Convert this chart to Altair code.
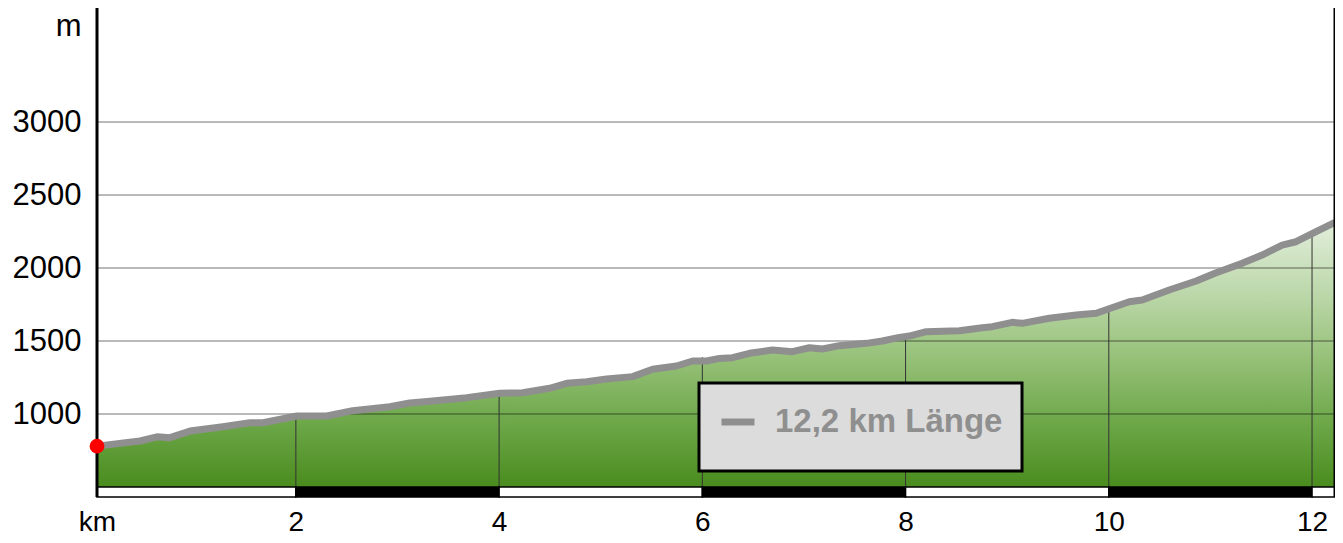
import altair as alt
import pandas as pd

# ---- data ----
km = [0.043, 0.466, 0.633, 0.761, 0.958, 1.282, 1.548, 1.676, 2.010, 2.305,
      2.560, 2.924, 3.121, 3.347, 3.681, 4.006, 4.232, 4.498, 4.665, 4.862,
      5.058, 5.314, 5.510, 5.746, 5.904, 6.041, 6.169, 6.297, 6.464, 6.690,
      6.887, 7.054, 7.182, 7.349, 7.615, 7.772, 7.939, 8.037, 8.204, 8.529,
      8.755, 8.853, 9.050, 9.148, 9.414, 9.680, 9.876, 10.201, 10.329, 10.594,
      10.860, 11.057, 11.312, 11.509, 11.706, 11.843, 12.040, 12.226]
elev = [780, 815, 844, 838, 883, 913, 940, 940, 986, 986,
        1023, 1050, 1075, 1089, 1112, 1142, 1146, 1176, 1210, 1221,
        1240, 1256, 1306, 1329, 1363, 1363, 1381, 1386, 1416, 1438,
        1427, 1454, 1445, 1468, 1484, 1500, 1525, 1534, 1564, 1570,
        1591, 1598, 1628, 1621, 1656, 1678, 1690, 1769, 1781, 1849,
        1911, 1968, 2032, 2089, 2157, 2180, 2249, 2312]
legend_label = "12,2 km Länge"

x_ticks = [0.043, 2, 4, 6, 8, 10, 12]
y_ticks = [1000, 1500, 2000, 2500, 3000]
unit_m_pos = 3655

grid_km = [2, 4, 6, 8, 10, 12]
grid_top = [986, 1142, 1390, 1534, 1720, 2240]

seg_start = [0.043, 2, 4, 6, 8, 10, 12]
seg_end = [2, 4, 6, 8, 10, 12, 12.226]
seg_fill = ["white", "black", "white", "black", "white", "black", "white"]

x_dom = [0.043, 12.226]
y_dom = [431.5, 3781]
base_elev = 500

assert len(km) == len(elev)

W, H = 1238, 489
FONT = "Liberation Sans"

profile = pd.DataFrame({"km": km, "elev": elev, "label": legend_label})
xs = alt.Scale(domain=x_dom, nice=False, zero=False)
ys = alt.Scale(domain=y_dom, nice=False, zero=False)

grad = alt.Gradient(
    gradient="linear",
    stops=[
        alt.GradientStop(color="#e2eedb", offset=0),
        alt.GradientStop(color="#b9d6a6", offset=0.29),
        alt.GradientStop(color="#95c077", offset=0.52),
        alt.GradientStop(color="#6ea84a", offset=0.75),
        alt.GradientStop(color="#4a8c1e", offset=1),
    ],
    x1=1, x2=1, y1=0, y2=1,
)

x_axis = alt.Axis(
    values=x_ticks,
    labelExpr="datum.value < 1 ? 'km' : format(datum.value, 'd')",
    ticks=False, domain=False, grid=False, title=None,
    labelFontSize=28, labelFont=FONT, labelColor="black", labelPadding=11,
    labelFlush=False, labelOverlap=False,
)
y_axis = alt.Axis(
    values=y_ticks + [unit_m_pos],
    labelExpr="datum.value > 3500 ? 'm' : format(datum.value, 'd')",
    ticks=False, domain=False, grid=False, title=None,
    labelFontSize=31, labelFont=FONT, labelColor="black", labelPadding=16,
    labelFlush=False, labelOverlap=False,
)

area = alt.Chart(profile).mark_area(color=grad).encode(
    x=alt.X("km:Q", scale=xs, axis=x_axis),
    y=alt.Y("elev:Q", scale=ys, axis=y_axis),
    y2=alt.datum(base_elev),
)

hgrid = alt.Chart(pd.DataFrame({"m": y_ticks})).mark_rule(
    color="black", opacity=0.55, strokeWidth=1
).encode(y=alt.Y("m:Q", scale=ys))

vgrid = alt.Chart(pd.DataFrame({"km": grid_km, "top": grid_top})).mark_rule(
    color="#333333", strokeWidth=1
).encode(
    x=alt.X("km:Q", scale=xs),
    y=alt.Y("top:Q", scale=ys),
    y2=alt.datum(base_elev),
)

scalebar = alt.Chart(
    pd.DataFrame({"s": seg_start, "e": seg_end, "c": seg_fill})
).mark_rect(stroke="black", strokeWidth=1.5).encode(
    x=alt.X("s:Q", scale=xs),
    x2="e:Q",
    y=alt.datum(base_elev),
    y2=alt.datum(y_dom[0]),
    fill=alt.Fill("c:N", scale=None),
)

frame = alt.Chart(pd.DataFrame({"km": x_dom})).mark_rule(
    color="black", strokeWidth=3
).encode(x=alt.X("km:Q", scale=xs))

legend = alt.Legend(
    title=" ", titleOrient="bottom", titleFontSize=12, titlePadding=2,
    orient="none", legendX=602, legendY=375,
    symbolType="stroke", symbolSize=1089, symbolStrokeWidth=7,
    labelFontSize=33, labelFontWeight="bold", labelColor="#8f8f8f",
    labelFont=FONT, labelOffset=17, padding=19, labelLimit=500,
    fillColor="#dcdcdc", strokeColor="black",
)

line = alt.Chart(profile).mark_line(
    strokeWidth=7, strokeJoin="round", strokeCap="butt"
).encode(
    x=alt.X("km:Q", scale=xs),
    y=alt.Y("elev:Q", scale=ys),
    color=alt.Color("label:N", scale=alt.Scale(range=["#8f8f8f"]), legend=legend),
)

dot = alt.Chart(profile.head(1)).mark_circle(
    color="#ff0000", size=220, opacity=1
).encode(x=alt.X("km:Q", scale=xs), y=alt.Y("elev:Q", scale=ys))

chart = alt.layer(area, hgrid, vgrid, scalebar, line, frame, dot).properties(
    width=W, height=H,
    padding={"left": 89, "top": 0, "right": 0, "bottom": 38},
    autosize="none",
    background="white",
).configure_view(stroke=None)

try:
    chart = chart.configure_legend(strokeWidth=3)
except Exception:
    pass

chart.save("out.html", embed_options={"renderer": "svg", "actions": False})
